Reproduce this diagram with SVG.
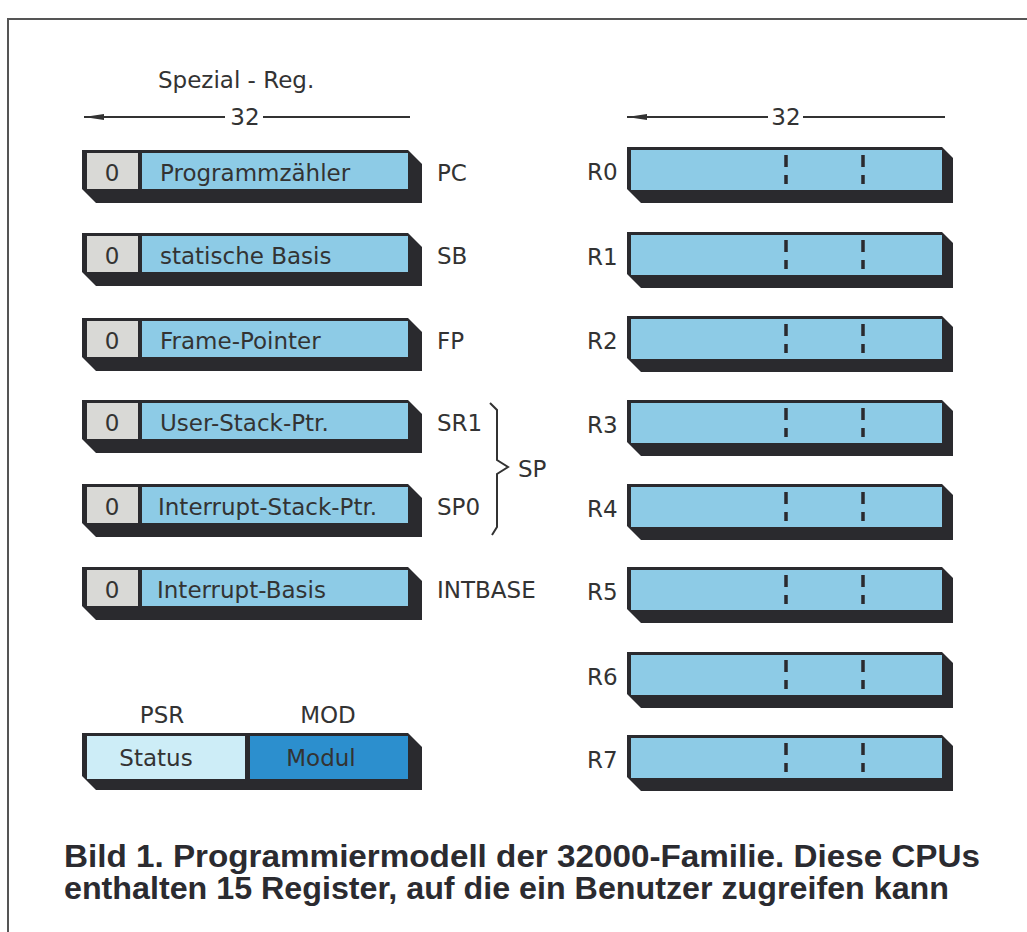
<svg xmlns="http://www.w3.org/2000/svg" width="1027" height="932" viewBox="0 0 1027 932">
<defs>
<style>
.t{font-family:"DejaVu Sans","Liberation Sans",sans-serif;font-size:23px;fill:#333;}
.cap{font-family:"Liberation Sans",Arial,sans-serif;font-size:31px;font-weight:bold;fill:#2b2b30;}
.sh{fill:#2a2a2e;}
.blue{fill:#8dcbe6;}
.grey{fill:#d9d9d6;}
.dash{stroke:#2a2a2e;stroke-width:3.5;}
.ln{stroke:#333;stroke-width:2;fill:none;}
</style>
<marker id="ah" markerWidth="20" markerHeight="8" refX="0" refY="4" orient="auto" markerUnits="userSpaceOnUse">
<path d="M0,4 L20,1 L20,7 Z" fill="#333"/>
</marker>
</defs>
<rect width="1027" height="932" fill="#ffffff"/>
<path d="M8,932 L8,19 L1027,19" stroke="#555" stroke-width="2" fill="none"/>

<g id="dims">
<text class="t" x="158" y="88">Spezial - Reg.</text>
<line class="ln" x1="84" y1="117" x2="225" y2="117" marker-start="url(#ah)"/>
<line class="ln" x1="263" y1="117" x2="410" y2="117"/>
<text class="t" x="245" y="125" text-anchor="middle">32</text>
<line class="ln" x1="627" y1="117" x2="768" y2="117" marker-start="url(#ah)"/>
<line class="ln" x1="803" y1="117" x2="945" y2="117"/>
<text class="t" x="786" y="125" text-anchor="middle">32</text>
</g>

<g id="PC">
<polygon class="sh" points="82,150 408,150 422,164 422,203 96,203 82,189"/>
<rect class="grey" x="87" y="153" width="51" height="36"/>
<rect class="blue" x="142" y="153" width="266" height="36"/>
<text class="t" x="112" y="181" text-anchor="middle">0</text>
<text class="t" x="160" y="181">Programmzähler</text>
<text class="t" x="437" y="181">PC</text>
</g>
<g id="SB">
<polygon class="sh" points="82,233 408,233 422,247 422,286 96,286 82,272"/>
<rect class="grey" x="87" y="236" width="51" height="36"/>
<rect class="blue" x="142" y="236" width="266" height="36"/>
<text class="t" x="112" y="264" text-anchor="middle">0</text>
<text class="t" x="160" y="264">statische Basis</text>
<text class="t" x="437" y="264">SB</text>
</g>
<g id="FP">
<polygon class="sh" points="82,318 408,318 422,332 422,371 96,371 82,357"/>
<rect class="grey" x="87" y="321" width="51" height="36"/>
<rect class="blue" x="142" y="321" width="266" height="36"/>
<text class="t" x="112" y="349" text-anchor="middle">0</text>
<text class="t" x="160" y="349">Frame-Pointer</text>
<text class="t" x="437" y="349">FP</text>
</g>
<g id="SR1">
<polygon class="sh" points="82,400 408,400 422,414 422,453 96,453 82,439"/>
<rect class="grey" x="87" y="403" width="51" height="36"/>
<rect class="blue" x="142" y="403" width="266" height="36"/>
<text class="t" x="112" y="431" text-anchor="middle">0</text>
<text class="t" x="160" y="431">User-Stack-Ptr.</text>
<text class="t" x="437" y="431">SR1</text>
</g>
<g id="SP0">
<polygon class="sh" points="82,484 408,484 422,498 422,537 96,537 82,523"/>
<rect class="grey" x="87" y="487" width="51" height="36"/>
<rect class="blue" x="142" y="487" width="266" height="36"/>
<text class="t" x="112" y="515" text-anchor="middle">0</text>
<text class="t" x="158" y="515">Interrupt-Stack-Ptr.</text>
<text class="t" x="437" y="515">SP0</text>
</g>
<g id="INTBASE">
<polygon class="sh" points="82,567 408,567 422,581 422,620 96,620 82,606"/>
<rect class="grey" x="87" y="570" width="51" height="36"/>
<rect class="blue" x="142" y="570" width="266" height="36"/>
<text class="t" x="112" y="598" text-anchor="middle">0</text>
<text class="t" x="157" y="598">Interrupt-Basis</text>
<text class="t" x="437" y="598">INTBASE</text>
</g>

<g id="SP">
<path class="ln" d="M490,403 L497,410 L497,460 L508,467 L497,474 L497,527 L492,535"/>
<text class="t" x="518" y="477">SP</text>
</g>

<g id="PSR">
<polygon class="sh" points="82,733 408,733 422,747 422,790 96,790 82,776"/>
<rect x="87" y="736" width="158" height="43" fill="#cdedf7"/>
<rect x="250" y="736" width="158" height="43" fill="#2c8fce"/>
<text class="t" x="162" y="723" text-anchor="middle">PSR</text>
<text class="t" x="328" y="723" text-anchor="middle">MOD</text>
<text class="t" x="156" y="766" text-anchor="middle">Status</text>
<text class="t" x="321" y="766" text-anchor="middle">Modul</text>
</g>

<g id="R0">
<polygon class="sh" points="627,147 942,147 953,158 953,203 641,203 627,189"/>
<rect class="blue" x="631" y="150" width="311" height="40"/>
<path class="dash" d="M786,155 v12 M786,175 v9 M863,155 v12 M863,175 v9"/>
<text class="t" x="587" y="180">R0</text>
</g>
<g id="R1">
<polygon class="sh" points="627,232 942,232 953,243 953,288 641,288 627,274"/>
<rect class="blue" x="631" y="235" width="311" height="40"/>
<path class="dash" d="M786,240 v12 M786,260 v9 M863,240 v12 M863,260 v9"/>
<text class="t" x="587" y="265">R1</text>
</g>
<g id="R2">
<polygon class="sh" points="627,316 942,316 953,327 953,372 641,372 627,358"/>
<rect class="blue" x="631" y="319" width="311" height="40"/>
<path class="dash" d="M786,324 v12 M786,344 v9 M863,324 v12 M863,344 v9"/>
<text class="t" x="587" y="349">R2</text>
</g>
<g id="R3">
<polygon class="sh" points="627,400 942,400 953,411 953,456 641,456 627,442"/>
<rect class="blue" x="631" y="403" width="311" height="40"/>
<path class="dash" d="M786,408 v12 M786,428 v9 M863,408 v12 M863,428 v9"/>
<text class="t" x="587" y="433">R3</text>
</g>
<g id="R4">
<polygon class="sh" points="627,484 942,484 953,495 953,540 641,540 627,526"/>
<rect class="blue" x="631" y="487" width="311" height="40"/>
<path class="dash" d="M786,492 v12 M786,512 v9 M863,492 v12 M863,512 v9"/>
<text class="t" x="587" y="517">R4</text>
</g>
<g id="R5">
<polygon class="sh" points="627,567 942,567 953,578 953,623 641,623 627,609"/>
<rect class="blue" x="631" y="570" width="311" height="40"/>
<path class="dash" d="M786,575 v12 M786,595 v9 M863,575 v12 M863,595 v9"/>
<text class="t" x="587" y="600">R5</text>
</g>
<g id="R6">
<polygon class="sh" points="627,652 942,652 953,663 953,708 641,708 627,694"/>
<rect class="blue" x="631" y="655" width="311" height="40"/>
<path class="dash" d="M786,660 v12 M786,680 v9 M863,660 v12 M863,680 v9"/>
<text class="t" x="587" y="685">R6</text>
</g>
<g id="R7">
<polygon class="sh" points="627,735 942,735 953,746 953,791 641,791 627,777"/>
<rect class="blue" x="631" y="738" width="311" height="40"/>
<path class="dash" d="M786,743 v12 M786,763 v9 M863,743 v12 M863,763 v9"/>
<text class="t" x="587" y="768">R7</text>
</g>

<g id="caption">
<text class="cap" x="64" y="867" textLength="916" lengthAdjust="spacingAndGlyphs">Bild 1. Programmiermodell der 32000-Familie. Diese CPUs</text>
<text class="cap" x="64" y="899" textLength="885" lengthAdjust="spacingAndGlyphs">enthalten 15 Register, auf die ein Benutzer zugreifen kann</text>
</g>
</svg>
